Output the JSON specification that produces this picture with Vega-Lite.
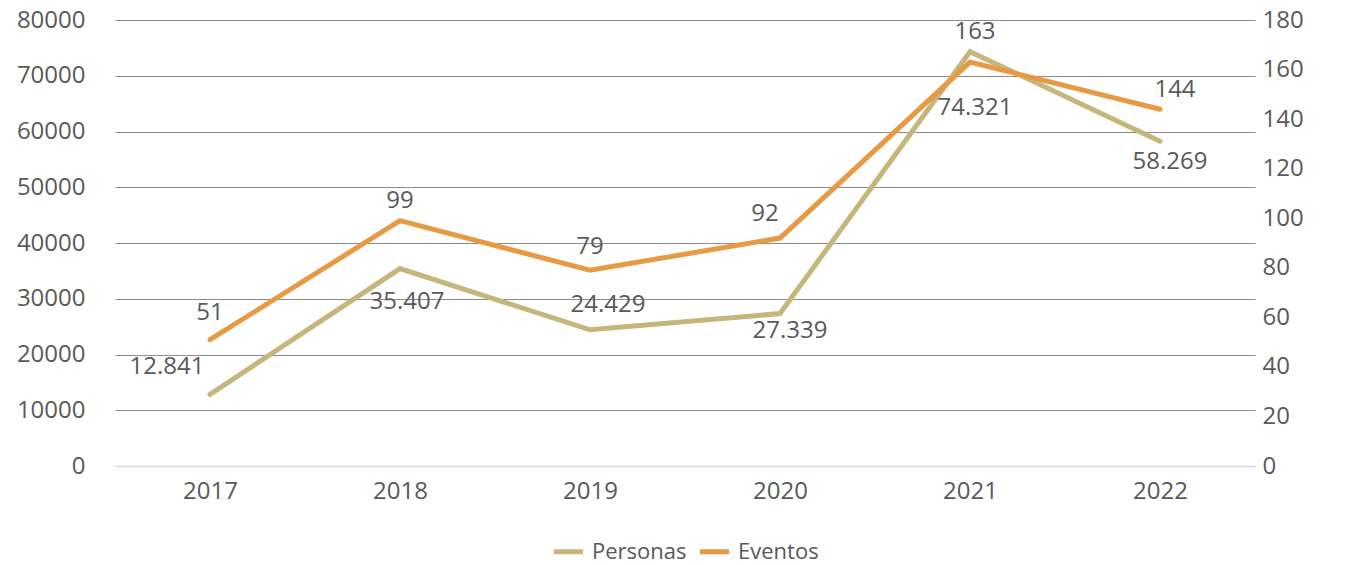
{
  "$schema": "https://vega.github.io/schema/vega-lite/v6.json",
  "width": 1140,
  "height": 446,
  "autosize": {"type": "none"},
  "padding": {"left": 115, "top": 20, "right": 94, "bottom": 99},
  "background": "white",
  "config": {
    "font": "Open Sans",
    "view": {"stroke": null},
    "axis": {"labelFont": "Open Sans", "labelFontSize": 24, "labelColor": "#595959", "title": null},
    "legend": {"labelFont": "Open Sans", "labelFontSize": 22, "labelColor": "#595959"}
  },
  "data": {
    "values": [
      {"year": "2017", "serie": "Personas", "value": 12841, "label": "12.841"},
      {"year": "2018", "serie": "Personas", "value": 35407, "label": "35.407"},
      {"year": "2019", "serie": "Personas", "value": 24429, "label": "24.429"},
      {"year": "2020", "serie": "Personas", "value": 27339, "label": "27.339"},
      {"year": "2021", "serie": "Personas", "value": 74321, "label": "74.321"},
      {"year": "2022", "serie": "Personas", "value": 58269, "label": "58.269"},
      {"year": "2017", "serie": "Eventos", "value": 51, "label": "51"},
      {"year": "2018", "serie": "Eventos", "value": 99, "label": "99"},
      {"year": "2019", "serie": "Eventos", "value": 79, "label": "79"},
      {"year": "2020", "serie": "Eventos", "value": 92, "label": "92"},
      {"year": "2021", "serie": "Eventos", "value": 163, "label": "163"},
      {"year": "2022", "serie": "Eventos", "value": 144, "label": "144"}
    ]
  },
  "encoding": {
    "x": {
      "field": "year", "type": "ordinal", "sort": null,
      "scale": {"type": "point", "padding": 0.5},
      "axis": {"labelAngle": 0, "domain": true, "domainColor": "#d9d9d9", "domainWidth": 1.5, "ticks": false, "labelPadding": 13, "grid": false}
    }
  },
  "layer": [
    {
      "transform": [{"filter": "datum.serie == 'Personas'"}],
      "encoding": {
        "y": {"field": "value", "type": "quantitative",
          "scale": {"domain": [0, 80000], "nice": false},
          "axis": {"orient": "left", "values": [0,10000,20000,30000,40000,50000,60000,70000,80000], "format": "d", "domain": false, "ticks": false, "labelPadding": 30, "grid": true, "gridColor": "#8c8c8c", "gridWidth": 1}
        }
      },
      "layer": [
        {
          "mark": {"type": "line", "strokeWidth": 5, "strokeCap": "round", "strokeJoin": "miter"},
          "encoding": {"color": {"field": "serie", "type": "nominal", "scale": {"domain": ["Personas", "Eventos"], "range": ["#C5B67C", "#E69A43"]},
            "legend": {"orient": "none", "legendX": 436, "legendY": 514, "padding": 0, "direction": "horizontal", "title": null, "symbolType": "stroke", "symbolStrokeWidth": 5, "symbolSize": 850, "columnPadding": 2, "labelOffset": 6}}}
        },
        {"transform": [{"filter": "datum.year == '2017'"}], "mark": {"type": "text", "fontSize": 24, "color": "#595959", "dx": -43, "dy": -27}, "encoding": {"text": {"field": "label"}}},
        {"transform": [{"filter": "datum.year == '2018'"}], "mark": {"type": "text", "fontSize": 24, "color": "#595959", "dx": 7, "dy": 33}, "encoding": {"text": {"field": "label"}}},
        {"transform": [{"filter": "datum.year == '2019'"}], "mark": {"type": "text", "fontSize": 24, "color": "#595959", "dx": 18, "dy": -25}, "encoding": {"text": {"field": "label"}}},
        {"transform": [{"filter": "datum.year == '2020'"}], "mark": {"type": "text", "fontSize": 24, "color": "#595959", "dx": 10, "dy": 17}, "encoding": {"text": {"field": "label"}}},
        {"transform": [{"filter": "datum.year == '2021'"}], "mark": {"type": "text", "fontSize": 24, "color": "#595959", "dx": 5, "dy": 56}, "encoding": {"text": {"field": "label"}}},
        {"transform": [{"filter": "datum.year == '2022'"}], "mark": {"type": "text", "fontSize": 24, "color": "#595959", "dx": 10, "dy": 21}, "encoding": {"text": {"field": "label"}}}
      ]
    },
    {
      "transform": [{"filter": "datum.serie == 'Eventos'"}],
      "encoding": {
        "y": {"field": "value", "type": "quantitative",
          "scale": {"domain": [0, 180], "nice": false},
          "axis": {"orient": "right", "values": [0,20,40,60,80,100,120,140,160,180], "domain": false, "ticks": false, "labelPadding": 7, "grid": false}
        }
      },
      "layer": [
        {
          "mark": {"type": "line", "strokeWidth": 5, "strokeCap": "round", "strokeJoin": "miter"},
          "encoding": {"color": {"field": "serie", "type": "nominal"}}
        },
        {"transform": [{"filter": "datum.year == '2017'"}], "mark": {"type": "text", "fontSize": 24, "color": "#595959", "dx": 0, "dy": -27}, "encoding": {"text": {"field": "label"}}},
        {"transform": [{"filter": "datum.year == '2018'"}], "mark": {"type": "text", "fontSize": 24, "color": "#595959", "dx": 0, "dy": -20}, "encoding": {"text": {"field": "label"}}},
        {"transform": [{"filter": "datum.year == '2019'"}], "mark": {"type": "text", "fontSize": 24, "color": "#595959", "dx": 0, "dy": -23}, "encoding": {"text": {"field": "label"}}},
        {"transform": [{"filter": "datum.year == '2020'"}], "mark": {"type": "text", "fontSize": 24, "color": "#595959", "dx": -15, "dy": -24}, "encoding": {"text": {"field": "label"}}},
        {"transform": [{"filter": "datum.year == '2021'"}], "mark": {"type": "text", "fontSize": 24, "color": "#595959", "dx": 5, "dy": -30}, "encoding": {"text": {"field": "label"}}},
        {"transform": [{"filter": "datum.year == '2022'"}], "mark": {"type": "text", "fontSize": 24, "color": "#595959", "dx": 15, "dy": -19}, "encoding": {"text": {"field": "label"}}}
      ]
    }
  ],
  "resolve": {"scale": {"y": "independent"}, "axis": {"y": "independent"}}
}
